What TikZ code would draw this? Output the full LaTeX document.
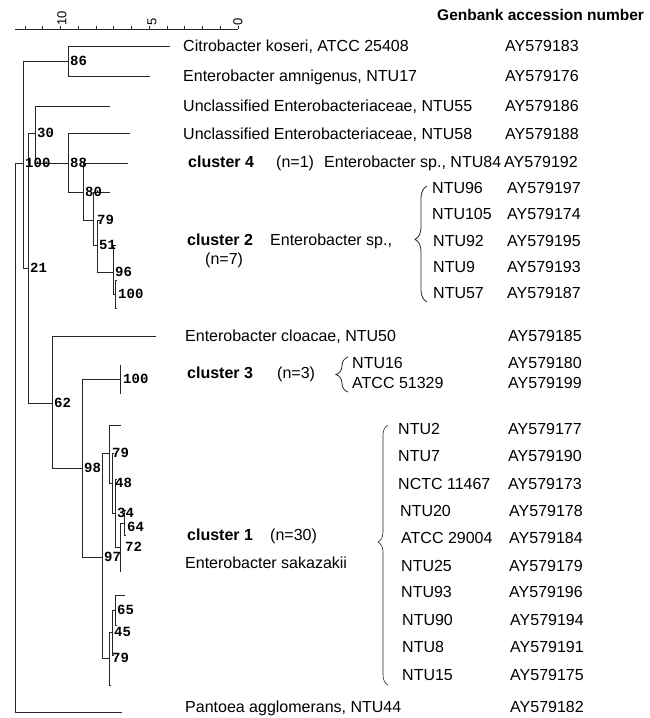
\documentclass[tikz,border=0pt]{standalone}
\usepackage{fontspec}
\setmainfont{Liberation Sans}
\newfontfamily\bootfont{Liberation Mono}
\usetikzlibrary{decorations.pathreplacing}

\begin{document}
\begin{tikzpicture}[x=1pt, y=-1pt,
  branch/.style={draw=black!85, line width=0.9pt},
  boot/.style={anchor=west, inner sep=0pt, xshift=2pt, font=\bootfont\bfseries\fontsize{14}{15}\selectfont},
  taxon/.style={anchor=west, inner sep=0pt, text height=11pt, text depth=0pt, font=\fontsize{16}{18}\selectfont},
  clus/.style={taxon, font=\bfseries\fontsize{16}{18}\selectfont},
  axlab/.style={anchor=west, rotate=90, inner sep=0pt, font=\fontsize{13}{14}\selectfont},
  curly/.style={draw=black!85, line width=0.8pt, decorate, decoration={brace, amplitude=#1}},
  curly/.default=12pt
]

\fill[white] (0,0) rectangle (650,718);
\useasboundingbox (0,0) rectangle (650,718);

% scale bar
\coordinate (axL) at (15,29);
\coordinate (axR) at (238,29);
\draw[branch] (axL) -- (axR);
\foreach \k in {0,...,12}
  \draw[branch, line width=0.7pt] (25+17.75*\k,29) -- ++(0,-3);
\node[axlab] (ax10) at (62,26) {10};
\node[axlab] (ax5) at (152,26) {5};
\node[axlab] (ax0) at (238,26) {0};

% tree: internal nodes
\coordinate (root) at (15,437);
\coordinate (n100) at (23,163);
\coordinate (n86) at (68,61);
\coordinate (n21) at (28,268);
\coordinate (n30) at (35,133);
\coordinate (n88) at (68,163);
\coordinate (n80) at (83,192);
\coordinate (n79a) at (93,220);
\coordinate (n51) at (97,245);
\coordinate (n96) at (113,272);
\coordinate (n100b) at (115,294);
\coordinate (n62) at (52,403);
\coordinate (n98) at (82,468);
\coordinate (n100c) at (120,379);
\coordinate (n97) at (102,557);
\coordinate (n79b) at (109,453);
\coordinate (n48) at (112,483);
\coordinate (n34) at (115,513);
\coordinate (n72) at (120,547);
\coordinate (n64) at (124,523);
\coordinate (n79c) at (109,658);
\coordinate (n45) at (112,632);
\coordinate (n65) at (115,610);

% tree: tips
\coordinate (cit) at (170,46);
\coordinate (amn) at (150,76);
\coordinate (u55) at (110,106);
\coordinate (u58) at (130,133);
\coordinate (e84) at (128,163);
\coordinate (c2a) at (110,192);
\coordinate (c2b) at (100,220);
\coordinate (c2c) at (116,245);
\coordinate (c2d) at (117,280);
\coordinate (c2e) at (117,308);
\coordinate (clo) at (156,336);
\coordinate (c3a) at (121,365);
\coordinate (c3b) at (121,393);
\coordinate (c1a) at (121,425);
\coordinate (c1b) at (114,453);
\coordinate (c1c) at (117,479);
\coordinate (c1d) at (126,510);
\coordinate (c1e) at (126,535);
\coordinate (c1f) at (121,571);
\coordinate (c1g) at (125,595);
\coordinate (c1h) at (117,625);
\coordinate (c1i) at (114,655);
\coordinate (c1j) at (111,685);
\coordinate (pant) at (122,712);

\foreach \p/\c in {root/n100, root/pant, n100/n86, n100/n21, n86/cit, n86/amn,
    n21/n30, n21/n62, n30/u55, n30/n88, n88/u58, n88/n80, n80/e84, n80/n79a,
    n79a/c2a, n79a/n51, n51/c2b, n51/n96, n96/c2c, n96/n100b, n100b/c2d, n100b/c2e,
    n62/clo, n62/n98, n98/n100c, n98/n97, n100c/c3a, n100c/c3b,
    n97/n79b, n97/n79c, n79b/c1a, n79b/n48, n48/c1b, n48/n34, n34/c1c, n34/n72,
    n72/n64, n72/c1f, n64/c1d, n64/c1e, n79c/n45, n79c/c1j, n45/n65, n45/c1i,
    n65/c1g, n65/c1h}
  \draw[branch] (\p) |- (\c);

% bootstrap values
\node[boot] (b86) at (n86) {86};
\node[boot] (b100) at (n100) {100};
\node[boot] (b21) at (n21) {21};
\node[boot] (b30) at (n30) {30};
\node[boot] (b88) at (n88) {88};
\node[boot] (b80) at (n80) {80};
\node[boot, xshift=2pt] (b79a) at (n79a) {79};
\node[boot] (b51) at (n51) {51};
\node[boot] (b96) at (n96) {96};
\node[boot, xshift=1pt] (b100b) at (n100b) {100};
\node[boot] (b62) at (n62) {62};
\node[boot] (b98) at (n98) {98};
\node[boot, xshift=1pt] (b100c) at (n100c) {100};
\node[boot] (b97) at (n97) {97};
\node[boot, xshift=1pt] (b79b) at (n79b) {79};
\node[boot, xshift=1pt] (b48) at (n48) {48};
\node[boot] (b34) at (n34) {34};
\node[boot, xshift=3pt] (b72) at (n72) {72};
\node[boot, xshift=1pt, yshift=-4pt] (b64) at (n64) {64};
\node[boot, xshift=1pt] (b79c) at (n79c) {79};
\node[boot] (b45) at (n45) {45};
\node[boot] (b65) at (n65) {65};

% header
\node[clus, font=\bfseries\fontsize{15.5}{17}\selectfont] (head) at (437,15) {Genbank accession number};

% single taxa
\node[taxon] (tcit) at (183,46) {Citrobacter koseri, ATCC 25408};
\node[taxon] (acit) at (505,46) {AY579183};
\node[taxon] (tamn) at (183,76) {Enterobacter amnigenus, NTU17};
\node[taxon] (aamn) at (505,76) {AY579176};
\node[taxon] (tu55) at (183,106) {Unclassified Enterobacteriaceae, NTU55};
\node[taxon] (au55) at (505,106) {AY579186};
\node[taxon] (tu58) at (183,134) {Unclassified Enterobacteriaceae, NTU58};
\node[taxon] (au58) at (505,134) {AY579188};

% cluster 4
\node[clus] (cl4) at (188,162) {cluster 4};
\node[taxon] (cl4n) at (276,162) {(n=1)};
\node[taxon] (t84) at (324,162) {Enterobacter sp., NTU84};
\node[taxon] (a84) at (504,162) {AY579192};

% cluster 2
\node[clus] (cl2) at (187,240) {cluster 2};
\node[taxon] (cl2sp) at (270,240) {Enterobacter sp.,};
\node[taxon] (cl2n) at (205,259) {(n=7)};
\draw[curly, decoration={aspect=0.54}] (427,302) -- (427,186);
\node[taxon] (t96) at (432,188) {NTU96};
\node[taxon] (a96) at (507,188) {AY579197};
\node[taxon] (t105) at (432,214) {NTU105};
\node[taxon] (a105) at (507,214) {AY579174};
\node[taxon] (t92) at (433,241) {NTU92};
\node[taxon] (a92) at (507,241) {AY579195};
\node[taxon] (t9) at (433,267) {NTU9};
\node[taxon] (a9) at (507,267) {AY579193};
\node[taxon] (t57) at (433,293) {NTU57};
\node[taxon] (a57) at (507,293) {AY579187};

% E. cloacae
\node[taxon] (tclo) at (185,336) {Enterobacter cloacae, NTU50};
\node[taxon] (aclo) at (508,336) {AY579185};

% cluster 3
\node[clus] (cl3) at (187,373) {cluster 3};
\node[taxon] (cl3n) at (277,373) {(n=3)};
\draw[curly] (348,392) -- (348,357);
\node[taxon] (t16) at (352,363) {NTU16};
\node[taxon] (a16) at (508,363) {AY579180};
\node[taxon] (t51329) at (352,383) {ATCC 51329};
\node[taxon] (a51329) at (508,383) {AY579199};

% cluster 1
\node[clus] (cl1) at (187,535) {cluster 1};
\node[taxon] (cl1n) at (270,535) {(n=30)};
\node[taxon] (cl1sp) at (185,563) {Enterobacter sakazakii};
\draw[curly=10pt, line width=0.6pt, decoration={aspect=0.55}] (388,685) -- (388,425);
\node[taxon] (t2) at (398,429) {NTU2};
\node[taxon] (a2) at (508,429) {AY579177};
\node[taxon] (t7) at (398,456) {NTU7};
\node[taxon] (a7) at (508,456) {AY579190};
\node[taxon] (t11467) at (398,484) {NCTC 11467};
\node[taxon] (a11467) at (508,484) {AY579173};
\node[taxon] (t20) at (400,511) {NTU20};
\node[taxon] (a20) at (509,511) {AY579178};
\node[taxon] (t29004) at (401,538) {ATCC 29004};
\node[taxon] (a29004) at (509,538) {AY579184};
\node[taxon] (t25) at (401,566) {NTU25};
\node[taxon] (a25) at (509,566) {AY579179};
\node[taxon] (t93) at (401,592) {NTU93};
\node[taxon] (a93) at (509,592) {AY579196};
\node[taxon] (t90) at (402,620) {NTU90};
\node[taxon] (a90) at (510,620) {AY579194};
\node[taxon] (t8) at (402,647) {NTU8};
\node[taxon] (a8) at (510,647) {AY579191};
\node[taxon] (t15) at (402,675) {NTU15};
\node[taxon] (a15) at (510,675) {AY579175};

% outgroup
\node[taxon] (tpant) at (185,707) {Pantoea agglomerans, NTU44};
\node[taxon] (apant) at (510,707) {AY579182};

\end{tikzpicture}
\end{document}
